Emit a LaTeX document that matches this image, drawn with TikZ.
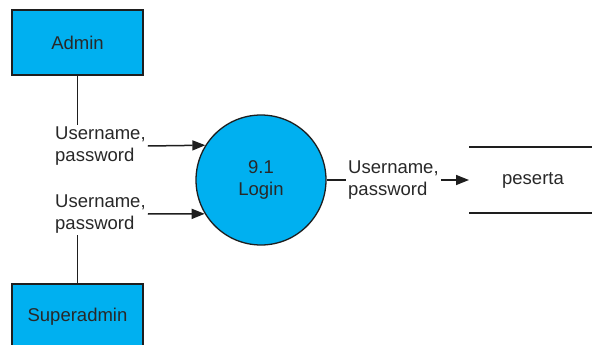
\documentclass[tikz,border=0pt]{standalone}
\usepackage{fontspec}
\setmainfont{Liberation Sans}
\usetikzlibrary{arrows.meta}
\definecolor{dfdblue}{RGB}{0,176,240}
\definecolor{txtgray}{RGB}{40,40,40}
\definecolor{linegray}{RGB}{30,30,30}
\begin{document}
\begin{tikzpicture}[x=1pt,y=-1pt,
  every node/.style={font=\fontsize{18.5}{22}\selectfont, text=txtgray},
  entity/.style={draw=linegray, line width=1.5pt, fill=dfdblue, minimum width=131pt, minimum height=65pt, inner sep=0pt},
  proc/.style={draw=linegray, line width=1.3pt, fill=dfdblue, circle, minimum size=130pt, inner sep=0pt, align=center},
  flowlabel/.style={align=left, inner sep=2pt, fill=white},
  conn/.style={draw=linegray, line width=1.5pt},
  arrow/.style={conn, -{Triangle[length=13pt,width=10pt]}}
]
\useasboundingbox (0,0) rectangle (592,345);
\begin{scope}
\clip (0,0) rectangle (592,345);
\node[entity] (admin) at (77.5,42.5) {Admin};
\node[entity] (super) at (77.5,316.5) {Superadmin};
\node[proc] (login) at (261,180) {9.1\\Login};
\node[flowlabel, anchor=west] (l1) at (53,146) {Username,\\password};
\node[flowlabel, anchor=west] (l2) at (53,214) {Username,\\password};
\node[flowlabel, anchor=west] (l3) at (346,180) {Username,\\password};
\node[minimum width=130pt, minimum height=66pt, inner sep=0pt, anchor=west] (store) at (469,180) {};
\node at (533,180) (storetxt) {peserta};
\draw[conn] (admin.south) -- (admin.south |- l1.north);
\draw[conn] (super.north) -- (super.north |- l2.south);
\draw[arrow] (l1.east) -- (login.148.5);
\draw[arrow] (l2.east) -- (login.211.5);
\draw[conn] (login.east) -- (l3.west);
\draw[arrow] (l3.east) -- (store.west);
\draw[conn] (store.north west) -- (store.north east);
\draw[conn] (store.south west) -- (store.south east);
\end{scope}
\end{tikzpicture}
\end{document}
